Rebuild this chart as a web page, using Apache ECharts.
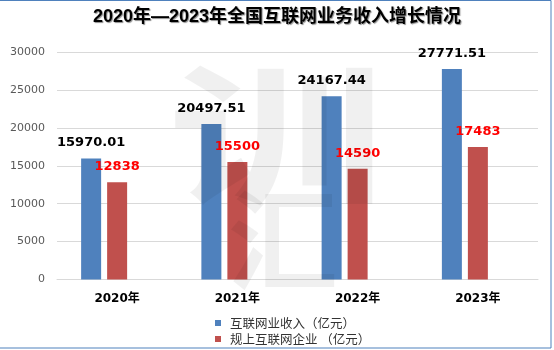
<!DOCTYPE html>
<html>
<head>
<meta charset="utf-8">
<script src="https://cdn.jsdelivr.net/npm/echarts@6/dist/echarts.min.js"></script>
<style>
  html, body { margin: 0; padding: 0; background: #fff; }
  #chart { width: 554px; height: 350px; }
</style>
</head>
<body>
<div id="chart"></div>
<script>
// Years on the category axis
var categories = ['2020年', '2021年', '2022年', '2023年'];
// 互联网业务收入（亿元）
var revenue = [15970.01, 20497.51, 24167.44, 27771.51];
// 规上互联网企业（亿元）
var enterprise = [12838, 15500, 14590, 17483];
// Value axis ticks
var yTicks = [0, 5000, 10000, 15000, 20000, 25000, 30000];

var seriesNames = ['互联网业收入（亿元）', '规上互联网企业 （亿元）'];

var chart = echarts.init(document.getElementById('chart'), null, { renderer: 'canvas' });

var valueLabel = {
  show: true,
  position: 'top',
  distance: 9,
  fontFamily: "'DejaVu Sans'",
  fontWeight: 'bold',
  fontSize: 13
};

chart.setOption({
  animation: false,
  backgroundColor: '#ffffff',
  title: {
    text: '2020年—2023年全国互联网业务收入增长情况',
    left: 'center',
    top: 8,
    padding: 0,
    textStyle: {
      fontFamily: "'Liberation Sans', 'Noto Sans CJK SC'",
      fontWeight: 'bold',
      fontSize: 18,
      color: '#000',
      textShadowColor: 'rgba(0,0,0,0.45)',
      textShadowOffsetX: 1,
      textShadowOffsetY: 1,
      textShadowBlur: 1
    }
  },
  legend: {
    data: seriesNames,
    orient: 'vertical',
    left: 215,
    top: 316,
    padding: 0,
    itemWidth: 6,
    itemHeight: 6,
    itemGap: 2,
    icon: 'rect',
    textStyle: {
      fontFamily: "'Noto Sans CJK SC'",
      fontSize: 12.5,
      color: '#333',
      lineHeight: 14,
      padding: [0, 0, 0, 4]
    }
  },
  grid: { left: 57, right: 16, top: 52, bottom: 70.5, containLabel: false },
  xAxis: {
    type: 'category',
    data: categories,
    axisTick: { show: false },
    axisLine: { lineStyle: { color: '#d9d9d9' } },
    axisLabel: {
      margin: 13,
      fontFamily: "'DejaVu Sans', 'Noto Sans CJK SC'",
      fontWeight: 'bold',
      fontSize: 12,
      color: '#000'
    }
  },
  yAxis: {
    type: 'value',
    min: yTicks[0],
    max: yTicks[yTicks.length - 1],
    interval: yTicks[1] - yTicks[0],
    axisLine: { show: false },
    axisTick: { show: false },
    splitLine: { lineStyle: { color: '#d9d9d9' } },
    axisLabel: {
      margin: 12,
      fontFamily: "'DejaVu Sans'",
      fontSize: 11,
      color: '#595959',
      formatter: function (v) { return String(v); }
    }
  },
  series: [
    {
      name: seriesNames[0],
      type: 'bar',
      data: revenue,
      barWidth: 20,
      barGap: '30%',
      itemStyle: { color: '#4f81bd' },
      label: Object.assign({}, valueLabel, {
        color: '#000',
        formatter: function (p) { return p.value.toFixed(2); }
      })
    },
    {
      name: seriesNames[1],
      type: 'bar',
      data: enterprise,
      barWidth: 20,
      barGap: '30%',
      itemStyle: { color: '#c0504d' },
      label: Object.assign({}, valueLabel, { color: '#ff0000' })
    },
    {
      // empty third slot keeps the pair left of each category centre
      name: 'spare',
      type: 'bar',
      data: [null, null, null, null],
      barWidth: 20,
      barGap: '30%'
    }
  ],
  graphic: [
    {
      type: 'text',
      z: 100,
      silent: true,
      x: 277,
      y: 135,
      scaleX: 1.45,
      style: {
        text: '训',
        font: 'bold 150px "Noto Sans CJK SC"',
        fill: 'rgba(0,0,0,0.06)',
        textAlign: 'center',
        textVerticalAlign: 'middle'
      }
    },
    {
      type: 'text',
      z: 100,
      silent: true,
      x: 283,
      y: 240,
      style: {
        text: '汇',
        font: 'bold 110px "Noto Sans CJK SC"',
        fill: 'rgba(0,0,0,0.06)',
        textAlign: 'center',
        textVerticalAlign: 'middle'
      }
    },
    {
      type: 'rect',
      z: 100,
      silent: true,
      shape: { x: -2, y: 0.5, width: 553, height: 347.5 },
      style: { fill: 'none', stroke: '#4f81bd', lineWidth: 1 }
    }
  ]
});
</script>
</body>
</html>
